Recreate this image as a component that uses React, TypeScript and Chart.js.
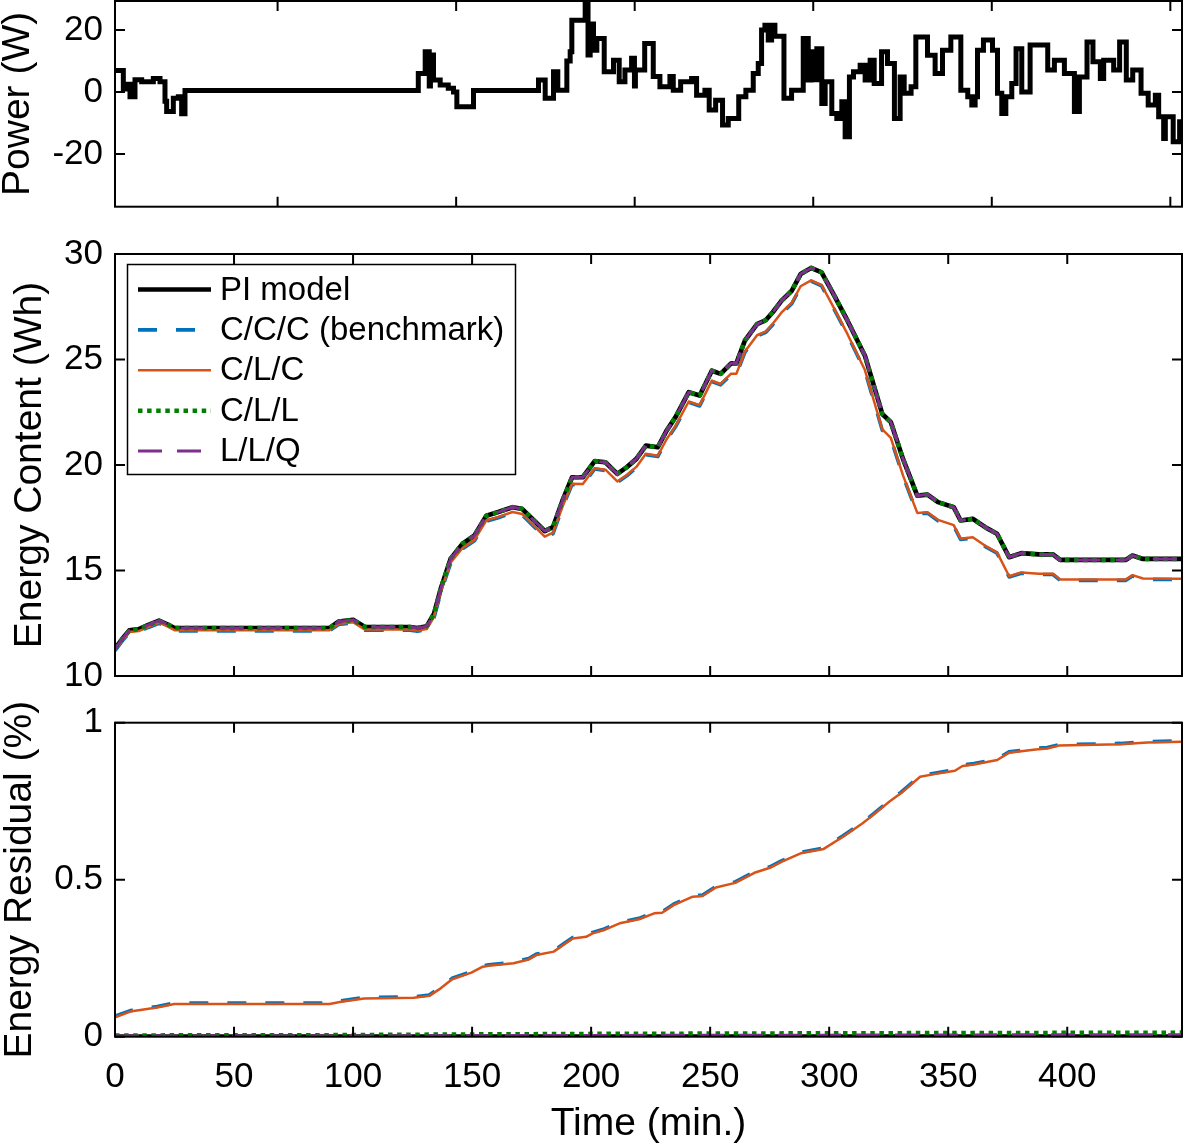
import React, { useEffect, useRef } from "react";
import { Chart, registerables } from "chart.js";

Chart.register(...registerables);

const FONT = "'Liberation Sans', Arial, Helvetica, sans-serif";

// ---------- data ----------
const X_MAX = 448.2;

const timeTicks = [0, 50, 100, 150, 200, 250, 300, 350, 400];
const powerPanelTicks = [68.3, 143.3, 218.3, 293.3, 368.3, 443.3];
const powerTicks = [-20, 0, 20];
const energyTicks = [10, 15, 20, 25, 30];
const residualTicks = [0, 0.5, 1];

const powerTime = [0, 3.5, 5, 6.3, 8.4, 11.2, 16.1, 18.9, 21, 21.7, 24.5, 26.6, 28, 29.4, 127.4, 130.3, 132, 132.5, 133.8, 136.6, 140, 142.2, 143.6, 150.6, 177.9, 180.7, 184.2, 186, 189.8, 191.2, 191.9, 197.5, 198.7, 199.6, 201, 202.4, 205.5, 209.4, 211.8, 214.2, 217, 218.2, 218.6, 222.5, 226.1, 228.9, 233.1, 234.5, 237.6, 242.2, 244.3, 247.8, 249.6, 252.3, 255.2, 257.6, 262, 265, 268.1, 270.2, 271.6, 273, 274.4, 275.8, 277.2, 281, 284.2, 289.1, 291.2, 292.4, 293.5, 294.8, 296.9, 298.3, 301.1, 303.2, 305.3, 306.7, 308.5, 310.2, 313, 315.1, 317.2, 318.9, 322, 324.5, 327.4, 329.8, 331.5, 334.4, 336.4, 341.3, 344.5, 347.6, 351.1, 355.3, 358.2, 359.9, 361.3, 362.3, 364.8, 368.6, 370.7, 372.5, 374.2, 376.7, 378.5, 380.9, 384.4, 391.8, 394.6, 398.8, 403, 405.1, 408.3, 410.8, 413.9, 415.3, 419.5, 422, 424.8, 427.5, 431, 434, 437, 438.4, 440.5, 441.2, 444.5, 447.2, 448.2];
const powerValue = [7, 1, 2.5, -1.5, 4, 3.3, 4.4, 3.3, -3, -6.3, -2, -1.5, -7, 0.5, 6, 13, 2, 12, 3.9, 2.3, 1.2, 0, -4.7, 0.5, 3.9, -2, 6.6, 0.6, 10, 13, 23.2, 29.7, 12, 22, 13.5, 17.3, 6.6, 10.3, 3.3, 7.1, 10.9, 2, 7.1, 15.7, 5, 1.7, 5, 0.6, 3.3, 4.4, -1, 0.6, -5.8, -2.6, -10.6, -8.5, -1.5, 0.6, 6, 9.2, 20, 21.6, 16.8, 21.6, 18, -2, 0.6, 17.3, 3.9, 13, 4, 14, -3.7, 3.3, -6.9, -8.5, -3.1, -14.4, 4.9, 6.6, 8.7, 3.9, 10.3, 2.8, 13, 9.2, -8.5, 4.9, -0.4, 1.7, 17.8, 11.9, 6, 13.5, 17.8, 0.6, -1.5, -4.2, -1.5, 13.5, 16.8, 13.5, -0.4, -6.9, -1.5, 2.8, 14, 0, 15.2, 7.1, 10.3, 6, -6.3, 4.9, 16.2, 9.8, 4.4, 10.3, 7.1, 16.2, 3.9, 7.1, -0.4, -4.2, -1, -8, -15, -8, -16, -9.6, -9.6];

const energyTime = [0, 3, 6, 10, 14, 18.5, 22, 25, 40, 60, 80, 90, 94, 100, 105, 115, 124, 127, 131, 134, 137, 141, 146, 151, 156, 161, 167, 171, 176, 180.5, 184, 188, 192, 196.5, 201.5, 206, 211, 215, 219, 223, 228, 231.7, 235.4, 241, 245.6, 250.7, 254.4, 258.8, 261, 264.6, 269.7, 273.4, 276.3, 280, 284.3, 288, 292.4, 296.8, 301.8, 307.7, 315, 322.3, 325.9, 331, 337, 341.3, 345.7, 352.3, 355.2, 360.3, 366, 370.5, 375.6, 380.7, 388, 394, 397, 424.5, 427.4, 431.8, 448.2];
const piEnergy = [11.29, 11.75, 12.16, 12.22, 12.42, 12.62, 12.45, 12.27, 12.27, 12.27, 12.27, 12.27, 12.58, 12.66, 12.32, 12.32, 12.32, 12.27, 12.36, 12.95, 14.2, 15.56, 16.27, 16.66, 17.6, 17.77, 18.0, 17.92, 17.37, 16.87, 17.06, 18.32, 19.42, 19.42, 20.18, 20.13, 19.58, 19.9, 20.29, 20.92, 20.84, 21.63, 22.26, 23.45, 23.29, 24.47, 24.32, 24.82, 24.82, 25.9, 26.68, 26.87, 27.24, 27.79, 28.26, 29.05, 29.34, 29.13, 28.1, 26.84, 25.18, 22.42, 22.03, 20.29, 18.55, 18.6, 18.24, 18.0, 17.37, 17.45, 17.02, 16.74, 15.63, 15.82, 15.76, 15.76, 15.5, 15.5, 15.71, 15.55, 15.55];
const cccEnergy = [11.2, 11.65, 12.05, 12.1, 12.3, 12.5, 12.32, 12.14, 12.14, 12.14, 12.14, 12.14, 12.44, 12.52, 12.17, 12.17, 12.17, 12.12, 12.2, 12.76, 14.0, 15.34, 16.03, 16.41, 17.34, 17.5, 17.73, 17.64, 17.08, 16.56, 16.75, 17.99, 19.07, 19.06, 19.81, 19.74, 19.18, 19.49, 19.87, 20.49, 20.4, 21.18, 21.8, 22.97, 22.8, 23.96, 23.8, 24.29, 24.28, 25.34, 26.11, 26.29, 26.65, 27.19, 27.65, 28.43, 28.71, 28.49, 27.44, 26.16, 24.46, 21.65, 21.24, 19.47, 17.69, 17.72, 17.36, 17.11, 16.47, 16.54, 16.1, 15.82, 14.69, 14.87, 14.81, 14.81, 14.53, 14.53, 14.74, 14.58, 14.57];
const clcEnergy = [11.23, 11.68, 12.08, 12.13, 12.33, 12.53, 12.35, 12.17, 12.17, 12.17, 12.17, 12.17, 12.47, 12.55, 12.2, 12.2, 12.2, 12.15, 12.23, 12.8, 14.04, 15.38, 16.07, 16.45, 17.38, 17.54, 17.77, 17.68, 17.12, 16.6, 16.79, 18.03, 19.11, 19.1, 19.85, 19.78, 19.22, 19.53, 19.91, 20.53, 20.44, 21.22, 21.84, 23.01, 22.84, 24.0, 23.84, 24.33, 24.32, 25.38, 26.15, 26.33, 26.69, 27.23, 27.69, 28.47, 28.75, 28.53, 27.48, 26.2, 24.5, 21.69, 21.28, 19.51, 17.73, 17.76, 17.4, 17.15, 16.51, 16.58, 16.14, 15.86, 14.73, 14.91, 14.85, 14.85, 14.57, 14.57, 14.78, 14.62, 14.61];
const cllEnergy = [11.29, 11.75, 12.16, 12.22, 12.42, 12.62, 12.45, 12.27, 12.27, 12.27, 12.27, 12.27, 12.58, 12.66, 12.32, 12.32, 12.32, 12.27, 12.36, 12.95, 14.2, 15.56, 16.27, 16.66, 17.6, 17.77, 18.0, 17.92, 17.37, 16.87, 17.06, 18.32, 19.42, 19.42, 20.18, 20.13, 19.58, 19.9, 20.29, 20.92, 20.84, 21.63, 22.26, 23.45, 23.29, 24.47, 24.32, 24.82, 24.82, 25.9, 26.68, 26.87, 27.24, 27.79, 28.26, 29.05, 29.34, 29.13, 28.1, 26.84, 25.18, 22.42, 22.03, 20.29, 18.55, 18.6, 18.24, 18.0, 17.37, 17.45, 17.02, 16.74, 15.63, 15.82, 15.76, 15.76, 15.5, 15.5, 15.71, 15.55, 15.55];
const llqEnergy = [11.29, 11.75, 12.16, 12.22, 12.42, 12.62, 12.45, 12.27, 12.27, 12.27, 12.27, 12.27, 12.58, 12.66, 12.32, 12.32, 12.32, 12.27, 12.36, 12.95, 14.2, 15.56, 16.27, 16.66, 17.6, 17.77, 18.0, 17.92, 17.37, 16.87, 17.06, 18.32, 19.42, 19.42, 20.18, 20.13, 19.58, 19.9, 20.29, 20.92, 20.84, 21.63, 22.26, 23.45, 23.29, 24.47, 24.32, 24.82, 24.82, 25.9, 26.68, 26.87, 27.24, 27.79, 28.26, 29.05, 29.34, 29.13, 28.1, 26.84, 25.18, 22.42, 22.03, 20.29, 18.55, 18.6, 18.24, 18.0, 17.37, 17.45, 17.02, 16.74, 15.63, 15.82, 15.76, 15.76, 15.5, 15.5, 15.71, 15.55, 15.55];

const residualTime = [0, 6.4, 17.7, 24.9, 90.1, 95, 104.6, 125.5, 132, 136.8, 141.6, 149.7, 154.5, 156.9, 167.4, 173.8, 177, 184.3, 188.3, 192.3, 197.9, 200.6, 205.5, 212, 220.1, 226.5, 229.8, 234.6, 242.7, 246.8, 252.4, 260.5, 268.6, 275.1, 279.9, 288, 297.7, 305.8, 313.9, 318.8, 325.2, 330.1, 338.2, 344.7, 352.8, 356, 360.8, 370.6, 375.4, 386.7, 391.6, 396.4, 422.3, 433.7, 448.2];
const cccResidual = [0.065, 0.083, 0.096, 0.107, 0.107, 0.114, 0.125, 0.127, 0.133, 0.157, 0.186, 0.207, 0.226, 0.229, 0.237, 0.249, 0.263, 0.274, 0.295, 0.316, 0.321, 0.332, 0.343, 0.364, 0.377, 0.396, 0.398, 0.422, 0.449, 0.451, 0.478, 0.493, 0.525, 0.541, 0.56, 0.587, 0.601, 0.64, 0.682, 0.711, 0.751, 0.778, 0.831, 0.84, 0.85, 0.865, 0.87, 0.884, 0.907, 0.918, 0.921, 0.93, 0.934, 0.94, 0.942];
const clcResidual = [0.062, 0.08, 0.093, 0.104, 0.104, 0.111, 0.122, 0.124, 0.13, 0.154, 0.183, 0.204, 0.223, 0.226, 0.234, 0.246, 0.26, 0.271, 0.292, 0.313, 0.318, 0.329, 0.34, 0.361, 0.374, 0.393, 0.395, 0.419, 0.446, 0.448, 0.475, 0.49, 0.522, 0.538, 0.557, 0.584, 0.598, 0.637, 0.679, 0.708, 0.748, 0.775, 0.828, 0.837, 0.847, 0.862, 0.867, 0.881, 0.904, 0.915, 0.918, 0.927, 0.931, 0.937, 0.939];

const smallResidualTime = [0, 90, 140, 200, 300, 380, 448.2];
const piResidual = [0, 0, 0, 0, 0, 0, 0];
const cllResidual = [0.004, 0.005, 0.007, 0.009, 0.011, 0.012, 0.013];
const llqResidual = [0.002, 0.002, 0.003, 0.004, 0.005, 0.006, 0.006];

const seriesLabels = ["PI model", "C/C/C (benchmark)", "C/L/C", "C/L/L", "L/L/Q"];

// ---------- styles ----------
const seriesColors = ["#000000", "#0072BD", "#D95319", "#008000", "#7E2F8E"];
const seriesWidths = [4.7, 3.6, 2.5, 4.5, 3];
const seriesDash: number[][] = [[], [19, 19], [], [4.5, 4.6], [24, 15]];

const pts = (xs: number[], ys: number[]) => xs.map((x, i) => ({ x, y: ys[i] }));

const makeSeries = (data: { x: number; y: number }[][]) =>
  data.map((d, i) => ({
    label: seriesLabels[i],
    data: d,
    borderColor: seriesColors[i],
    backgroundColor: seriesColors[i],
    borderWidth: seriesWidths[i],
    borderDash: seriesDash[i],
    borderCapStyle: "butt" as const,
    borderJoinStyle: "round" as const,
    pointRadius: 0,
    fill: false,
    tension: 0,
    order: 10 - i,
  }));

const boxPlugin = {
  id: "matlabBox",
  afterDatasetsDraw(chart: any) {
    const { ctx, chartArea: a, scales } = chart;
    ctx.save();
    ctx.setLineDash([]);
    ctx.strokeStyle = "#000";
    ctx.lineWidth = 2;
    ctx.strokeRect(a.left, a.top, a.right - a.left, a.bottom - a.top);
    const L = 10;
    ctx.beginPath();
    for (const t of scales.x.ticks) {
      const px = scales.x.getPixelForValue(t.value);
      ctx.moveTo(px, a.bottom);
      ctx.lineTo(px, a.bottom - L);
      ctx.moveTo(px, a.top);
      ctx.lineTo(px, a.top + L);
    }
    for (const t of scales.y.ticks) {
      const py = scales.y.getPixelForValue(t.value);
      ctx.moveTo(a.left, py);
      ctx.lineTo(a.left + L, py);
      ctx.moveTo(a.right, py);
      ctx.lineTo(a.right - L, py);
    }
    ctx.stroke();
    ctx.restore();
  },
};

const legendPlugin = {
  id: "energyLegend",
  afterDraw(chart: any) {
    const { ctx, chartArea: a } = chart;
    const bx = a.left + 12.5;
    const by = a.top + 10.5;
    const bw = 388;
    const bh = 210;
    ctx.save();
    ctx.fillStyle = "#fff";
    ctx.fillRect(bx, by, bw, bh);
    ctx.setLineDash([]);
    ctx.strokeStyle = "#000";
    ctx.lineWidth = 1.5;
    ctx.strokeRect(bx, by, bw, bh);
    ctx.font = `33px ${FONT}`;
    ctx.textBaseline = "middle";
    ctx.textAlign = "left";
    chart.data.datasets.forEach((ds: any, i: number) => {
      const y = by + 25 + i * 40.4;
      ctx.beginPath();
      ctx.strokeStyle = ds.borderColor;
      ctx.lineWidth = ds.borderWidth;
      ctx.lineCap = "butt";
      ctx.setLineDash(ds.borderDash || []);
      ctx.moveTo(bx + 10.5, y);
      ctx.lineTo(bx + 83.5, y);
      ctx.stroke();
      ctx.setLineDash([]);
      ctx.fillStyle = "#000";
      ctx.fillText(ds.label, bx + 92.5, y + 1);
    });
    ctx.restore();
  },
};

const yScale = (min: number, max: number, ticks: number[], title: string, titlePad: number) => ({
  type: "linear" as const,
  min,
  max,
  afterBuildTicks: (s: any) => {
    s.ticks = ticks.map((v) => ({ value: v }));
  },
  afterFit: (s: any) => {
    s.width = 115;
    s.paddingTop = 0;
    s.paddingBottom = 0;
  },
  grid: { display: false, drawTicks: false },
  border: { display: false },
  ticks: {
    font: { size: 35, family: FONT },
    color: "#000",
    padding: 12,
    callback: (v: any) => String(v),
  },
  title: {
    display: true,
    text: title,
    color: "#000",
    font: { size: 39, family: FONT, lineHeight: 1 },
    padding: { top: titlePad, bottom: 0 },
  },
});

const hiddenX = (ticks: number[]) => ({
  type: "linear" as const,
  display: false,
  min: 0,
  max: X_MAX,
  afterBuildTicks: (s: any) => {
    s.ticks = ticks.map((v) => ({ value: v }));
  },
});

const baseOptions = (padding: any, scales: any) => ({
  responsive: false,
  animation: false as const,
  devicePixelRatio: 1,
  layout: { padding },
  plugins: { legend: { display: false }, tooltip: { enabled: false } },
  scales,
});

const PANELS = [
  { top: 0, height: 215 },
  { top: 220, height: 490 },
  { top: 700, height: 446 },
];

export default function App() {
  const r1 = useRef<HTMLCanvasElement>(null);
  const r2 = useRef<HTMLCanvasElement>(null);
  const r3 = useRef<HTMLCanvasElement>(null);

  useEffect(() => {
    Chart.defaults.font.family = FONT;
    Chart.defaults.color = "#000";

    const c1 = new Chart(r1.current!, {
      type: "line",
      data: {
        datasets: [
          {
            label: "Power",
            data: pts(powerTime, powerValue),
            borderColor: "#000",
            borderWidth: 5,
            stepped: true,
            pointRadius: 0,
            fill: false,
            borderJoinStyle: "miter",
          } as any,
        ],
      },
      options: baseOptions(
        { top: 1, right: 2, bottom: 8.3, left: 0 },
        { x: hiddenX(powerPanelTicks), y: yScale(-37, 29.4, powerTicks, "Power (W)", -1.5) }
      ) as any,
      plugins: [boxPlugin],
    });

    const c2 = new Chart(r2.current!, {
      type: "line",
      data: {
        datasets: makeSeries([
          pts(energyTime, piEnergy),
          pts(energyTime, cccEnergy),
          pts(energyTime, clcEnergy),
          pts(energyTime, cllEnergy),
          pts(energyTime, llqEnergy),
        ]) as any,
      },
      options: baseOptions(
        { top: 34, right: 2, bottom: 34, left: 0 },
        { x: hiddenX(timeTicks), y: yScale(10, 30, energyTicks, "Energy Content (Wh)", 11) }
      ) as any,
      plugins: [boxPlugin, legendPlugin],
    });

    const c3 = new Chart(r3.current!, {
      type: "line",
      data: {
        datasets: makeSeries([
          pts(smallResidualTime, piResidual),
          pts(residualTime, cccResidual),
          pts(residualTime, clcResidual),
          pts(smallResidualTime, cllResidual),
          pts(smallResidualTime, llqResidual),
        ]) as any,
      },
      options: baseOptions(
        { top: 22.7, right: 2, bottom: 0, left: 0 },
        {
          x: {
            type: "linear",
            min: 0,
            max: X_MAX,
            afterBuildTicks: (s: any) => {
              s.ticks = timeTicks.map((v) => ({ value: v }));
            },
            afterFit: (s: any) => {
              s.height = 109.3;
              s.paddingLeft = 0;
              s.paddingRight = 0;
            },
            grid: { display: false, drawTicks: false },
            border: { display: false },
            ticks: {
              font: { size: 35, family: FONT },
              color: "#000",
              padding: 20,
              maxRotation: 0,
              autoSkip: false,
              callback: (v: any) => String(v),
            },
            title: {
              display: true,
              text: "Time (min.)",
              color: "#000",
              font: { size: 39, family: FONT, lineHeight: 1 },
              padding: { top: 0, bottom: 2 },
            },
          },
          y: yScale(0, 1, residualTicks, "Energy Residual (%)", 0.5),
        }
      ) as any,
      plugins: [boxPlugin],
    });

    return () => {
      c1.destroy();
      c2.destroy();
      c3.destroy();
    };
  }, []);

  const refs = [r1, r2, r3];
  return (
    <div style={{ position: "absolute", left: 0, top: 0, width: 1184, height: 1146, background: "#fff" }}>
      {PANELS.map((p, i) => (
        <canvas
          key={i}
          ref={refs[i]}
          width={1184}
          height={p.height}
          style={{ position: "absolute", left: 0, top: p.top, width: 1184, height: p.height }}
        />
      ))}
    </div>
  );
}
